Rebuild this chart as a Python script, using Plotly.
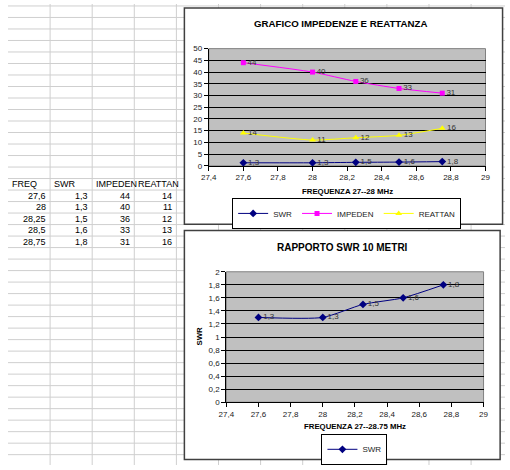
import plotly.graph_objects as go

W, H = 510, 470

# ---- data ----
freq = [27.6, 28, 28.25, 28.5, 28.75]
swr = [1.3, 1.3, 1.5, 1.6, 1.8]
impeden = [44, 40, 36, 33, 31]
reattan = [14, 11, 12, 13, 16]
headers = ["FREQ", "SWR", "IMPEDEN", "REATTAN"]
title1 = "GRAFICO IMPEDENZE E REATTANZA"
title2 = "RAPPORTO SWR 10 METRI"
xtitle1 = "FREQUENZA 27--28 MHz"
xtitle2 = "FREQUENZA 27--28.75 MHz"
ytitle2 = "SWR"


def fmt(v):
    s = ("%g" % v)
    return s.replace(".", ",")


def px(x):
    return x / W


def py(y):
    return 1 - y / H


FONT = "Liberation Sans, Arial, sans-serif"
fig = go.Figure()

lbl = dict(size=8, color="#333333", family=FONT)
line_shape = dict(shape="spline", smoothing=0.6, width=1)

fig.add_trace(go.Scatter(x=freq, y=swr, name="SWR", mode="lines+markers+text",
                         text=[fmt(v) for v in swr], textposition="middle right", textfont=lbl,
                         line=dict(color="#000080", **line_shape),
                         marker=dict(symbol="diamond", size=6, color="#000080"),
                         xaxis="x", yaxis="y", legend="legend", cliponaxis=False))
fig.add_trace(go.Scatter(x=freq, y=impeden, name="IMPEDEN", mode="lines+markers+text",
                         text=[fmt(v) for v in impeden], textposition="middle right", textfont=lbl,
                         line=dict(color="#FF00FF", **line_shape),
                         marker=dict(symbol="square", size=5, color="#FF00FF"),
                         xaxis="x", yaxis="y", legend="legend", cliponaxis=False))
fig.add_trace(go.Scatter(x=freq, y=reattan, name="REATTAN", mode="lines+markers+text",
                         text=[fmt(v) for v in reattan], textposition="middle right", textfont=lbl,
                         line=dict(color="#FFFF00", **line_shape),
                         marker=dict(symbol="triangle-up", size=6, color="#FFFF00"),
                         xaxis="x", yaxis="y", legend="legend", cliponaxis=False))
fig.add_trace(go.Scatter(x=freq, y=swr, name="SWR", mode="lines+markers+text",
                         text=[fmt(v) for v in swr], textposition="middle right", textfont=lbl,
                         line=dict(color="#000080", **line_shape),
                         marker=dict(symbol="diamond", size=6, color="#000080"),
                         xaxis="x2", yaxis="y2", legend="legend2", cliponaxis=False))

shapes = []
# spreadsheet grid
GRID = "#cfcfcf"
k = 1
while 43.2 * k < W:
    xx = 43.2 * k
    shapes.append(dict(type="line", xref="paper", yref="paper", x0=px(xx), x1=px(xx), y0=0, y1=1,
                       line=dict(color=GRID, width=1), layer="below"))
    k += 1
n = 0
while 2 + 11.73 * n < H:
    yy = 2 + 11.73 * n
    shapes.append(dict(type="line", xref="paper", yref="paper", x0=0, x1=1, y0=py(yy), y1=py(yy),
                       line=dict(color=GRID, width=1), layer="below"))
    n += 1
# chart boxes
shapes.append(dict(type="rect", xref="paper", yref="paper", x0=px(181), x1=px(507.5), y0=py(224.5), y1=py(4),
                   fillcolor="white", line=dict(color="#404040", width=1.5), layer="below"))
shapes.append(dict(type="rect", xref="paper", yref="paper", x0=px(181), x1=px(505), y0=py(464.5), y1=py(231),
                   fillcolor="white", line=dict(color="#404040", width=1.5), layer="below"))
# plot areas
for xa, ya in (("x", "y"), ("x2", "y2")):
    shapes.append(dict(type="rect", xref=xa + " domain", yref=ya + " domain", x0=0, x1=1, y0=0, y1=1,
                       fillcolor="#c0c0c0", line=dict(color="#808080", width=1), layer="below"))

tickf = dict(size=8, color="#222222", family=FONT)
xcommon = dict(range=[27.4, 29], tick0=27.4, dtick=0.2, showgrid=False, zeroline=False,
               showline=True, linecolor="black", linewidth=1, ticks="outside", ticklen=4,
               tickcolor="black", tickfont=tickf, fixedrange=True)
ycommon = dict(showgrid=True, gridcolor="black", gridwidth=1, zeroline=False,
               showline=True, linecolor="black", linewidth=1, ticks="outside", ticklen=4,
               tickcolor="black", tickfont=tickf, fixedrange=True)

annotations = []
# table
TF = dict(size=9, color="black", family=FONT)
hx = [2, 45.5, 88, 131.5]
for t, xx in zip(headers, hx):
    annotations.append(dict(text=t, x=px(xx), y=py(184), xref="paper", yref="paper",
                            xanchor="left", yanchor="middle", showarrow=False, font=TF))
rx = [41, 84, 127, 170]
cols = [freq, swr, impeden, reattan]
for ci, col in enumerate(cols):
    for ri, v in enumerate(col):
        yy = 184 + 11.73 * (ri + 1)
        annotations.append(dict(text=fmt(v), x=px(rx[ci]), y=py(yy), xref="paper", yref="paper",
                                xanchor="right", yanchor="middle", showarrow=False, font=TF))

BT = dict(size=9.7, color="black", family=FONT, weight="bold")
BA = dict(size=7.8, color="black", family=FONT, weight="bold")
annotations += [
    dict(text="<b>%s</b>" % title1, x=px(341.5), y=py(19.5), xref="paper", yref="paper",
         showarrow=False, font=BT, xanchor="center", yanchor="middle"),
    dict(text="<b>%s</b>" % xtitle1, x=px(348), y=py(191), xref="paper", yref="paper",
         showarrow=False, font=BA, xanchor="center", yanchor="middle"),
    dict(text="<b>%s</b>" % title2, x=px(343.3), y=py(248.5), xref="paper", yref="paper",
         showarrow=False, font=dict(BT, size=10), xanchor="center", yanchor="middle"),
    dict(text="<b>%s</b>" % xtitle2, x=px(355.8), y=py(431), xref="paper", yref="paper",
         showarrow=False, font=BA, xanchor="center", yanchor="middle"),
    dict(text="<b>%s</b>" % ytitle2, x=px(197), y=py(338), xref="paper", yref="paper",
         showarrow=False, font=BA, xanchor="center", yanchor="middle", textangle=-90),
]

legstyle = dict(orientation="h", bordercolor="black", borderwidth=1, bgcolor="white",
                font=dict(size=8, color="#222222", family=FONT), itemwidth=30,
                xref="paper", yref="paper", xanchor="center", yanchor="middle",
                tracegroupgap=0, itemclick=False, itemdoubleclick=False)

fig.update_layout(
    width=W, height=H, margin=dict(l=0, r=0, t=0, b=0, pad=0),
    paper_bgcolor="white", plot_bgcolor="rgba(0,0,0,0)",
    separators=",.",
    font=dict(family=FONT, color="black"),
    xaxis=dict(domain=[px(206), px(490)], anchor="y", **xcommon),
    yaxis=dict(domain=[py(165), py(45.5)], anchor="x", range=[0, 50], dtick=5, **ycommon),
    xaxis2=dict(domain=[px(224), px(488)], anchor="y2", **xcommon),
    yaxis2=dict(domain=[py(406), py(273)], anchor="x2", range=[0, 2], dtick=0.2, **ycommon),
    legend=dict(x=px(347.5), y=py(213.5), **legstyle),
    legend2=dict(x=px(355.5), y=py(454), **legstyle),
    shapes=shapes, annotations=annotations, showlegend=True,
)

fig.write_html("out.html")
